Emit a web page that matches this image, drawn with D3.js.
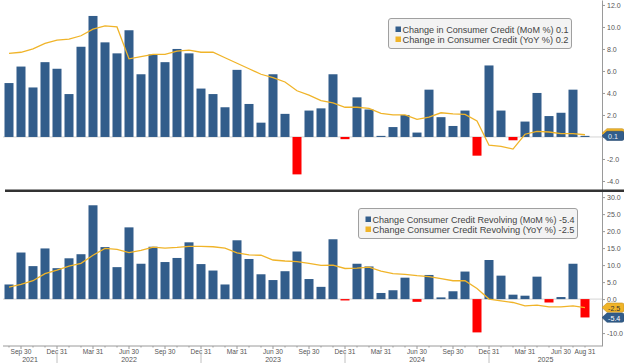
<!DOCTYPE html>
<html>
<head>
<meta charset="utf-8">
<script src="https://cdn.jsdelivr.net/npm/d3@7"></script>
<style>
body { margin: 0; background: #fff; }
svg { display: block; font-family: "Liberation Sans", Arial, sans-serif; }
</style>
</head>
<body>
<svg width="624" height="363"></svg>
<script>
// month ends, Aug 2021 .. Aug 2025
var months = [
    "2021-08", "2021-09", "2021-10", "2021-11", "2021-12",
    "2022-01", "2022-02", "2022-03", "2022-04", "2022-05", "2022-06", "2022-07", "2022-08", "2022-09", "2022-10", "2022-11", "2022-12",
    "2023-01", "2023-02", "2023-03", "2023-04", "2023-05", "2023-06", "2023-07", "2023-08", "2023-09", "2023-10", "2023-11", "2023-12",
    "2024-01", "2024-02", "2024-03", "2024-04", "2024-05", "2024-06", "2024-07", "2024-08", "2024-09", "2024-10", "2024-11", "2024-12",
    "2025-01", "2025-02", "2025-03", "2025-04", "2025-05", "2025-06", "2025-07", "2025-08"
];

var creditMoM = [4.9, 6.4, 4.5, 6.8, 6.2, 3.9, 8.2, 11.0, 8.6, 7.6, 9.7, 5.7, 7.5, 6.8, 8.0, 7.6, 4.4,
    3.9, 2.7, 6.1, 3.0, 1.3, 5.7, 2.1, -3.4, 2.4, 2.6, 5.7, -0.2,
    3.6, 2.5, 0.1, 0.9, 2.0, 0.4, 4.3, 1.8, 1.0, 2.4, -1.7, 6.5,
    2.4, -0.3, 1.4, 4.0, 1.9, 2.2, 4.3, 0.1];
var creditYoY = [7.6, 7.7, 8.0, 8.5, 8.8, 8.9, 9.2, 9.8, 10.1, 10.0, 7.1, 7.3, 7.5, 7.5, 7.8, 7.9, 7.7,
    7.7, 7.2, 6.7, 6.2, 5.7, 5.4, 5.0, 4.2, 3.8, 3.3, 3.1, 2.7,
    2.7, 2.6, 2.15, 2.0, 2.0, 1.6, 1.8, 2.2, 2.1, 2.05, 1.45, -0.75,
    -0.85, -1.1, 0.25, 0.5, 0.45, 0.3, 0.3, 0.2];
var revolvingMoM = [4.3, 13.7, 9.7, 14.9, 9.1, 12.0, 13.2, 27.6, 15.3, 9.4, 21.1, 10.4, 15.4, 10.9, 12.1, 16.7, 10.3,
    8.4, 4.3, 17.3, 11.8, 7.3, 5.6, 8.2, 14.0, 5.9, 3.6, 17.6, -0.4,
    10.4, 9.6, 1.8, 2.6, 6.3, -0.8, 7.1, 0.5, 2.3, 8.1, -9.8, 11.5,
    6.9, 1.3, 1.0, 6.6, -1.0, 0.6, 10.4, -5.4];
var revolvingYoY = [3.5, 4.3, 5.4, 7.5, 8.5, 9.7, 10.5, 12.9, 14.9, 14.6, 13.7, 14.3, 15.3, 15.0, 15.2, 15.5, 15.5,
    15.4, 15.0, 13.6, 13.0, 12.9, 11.5, 11.2, 11.0, 10.5, 9.9, 10.0, 9.0,
    9.1, 9.4, 8.2, 7.5, 7.3, 6.9, 6.6, 6.0, 5.4, 5.4, 3.1, 0.0,
    -0.5, -1.0, -2.0, -1.8, -2.3, -2.3, -2.0, -2.5];

var topTicks = [-4, -2, 0, 2, 4, 6, 8, 10, 12];
var bottomTicks = [-10, -5, 0, 5, 10, 15, 20, 25, 30];
var years = ["2021", "2022", "2023", "2024", "2025"];

var topLegend = ["Change in Consumer Credit (MoM %) 0.1", "Change in Consumer Credit (YoY %)  0.2"];
var bottomLegend = ["Change Consumer Credit Revolving (MoM %) -5.4", "Change Consumer Credit Revolving (YoY %)  -2.5"];

var BLUE = "#325d8b", RED = "#ff0000", GOLD = "#f0b429";

var svg = d3.select("svg");
var parse = d3.timeParse("%Y-%m");
var monthEnd = m => { var d = parse(m); return new Date(d.getFullYear(), d.getMonth() + 1, 0); };

var x = d3.scaleBand().domain(months).range([3, 591]).paddingInner(0.25).paddingOuter(0.125);
var cx = m => x(m) + x.bandwidth() / 2;

var yTop = d3.scaleLinear().domain([-4.82, 12.45]).range([190, 0]);
var yBot = d3.scaleLinear().domain([-13.8, 31.8]).range([346, 191]);

// squeeze text horizontally, the original uses a narrow font
function narrow(sel, k) {
    sel.each(function () {
        var w = this.getComputedTextLength();
        d3.select(this).attr("textLength", w * k).attr("lengthAdjust", "spacingAndGlyphs");
    });
}

function panel(y, mom, yoy, ticks, legend, box) {
    var g = svg.append("g");

    g.append("line")
        .attr("x1", 3).attr("x2", 602)
        .attr("y1", y(0)).attr("y2", y(0))
        .attr("stroke", "#d4d4d4");

    g.selectAll("rect.bar")
        .data(months)
        .enter().append("rect")
        .attr("class", "bar")
        .attr("x", m => x(m))
        .attr("width", x.bandwidth())
        .attr("y", (m, i) => y(Math.max(0, mom[i])))
        .attr("height", (m, i) => Math.abs(y(mom[i]) - y(0)))
        .attr("fill", (m, i) => mom[i] < 0 ? RED : BLUE);

    g.append("path")
        .datum(months)
        .attr("fill", "none")
        .attr("stroke", GOLD)
        .attr("stroke-width", 1.3)
        .attr("d", d3.line().x(m => cx(m)).y((m, i) => y(yoy[i])));

    var ax = g.append("g")
        .attr("transform", "translate(602,0)")
        .call(d3.axisRight(y).tickValues(ticks).tickSize(3).tickSizeOuter(0).tickPadding(2)
            .tickFormat(d => d.toFixed(1)));
    ax.select(".domain").attr("stroke", "#9a9a9a");
    ax.selectAll(".tick line").attr("stroke", "#9a9a9a");
    ax.selectAll(".tick text").attr("fill", "#555").attr("font-size", 7.8)
        .attr("font-family", "Liberation Sans, Arial, sans-serif")
        .call(narrow, 0.9);

    // legend
    var lg = g.append("g");
    lg.append("rect")
        .attr("x", box[0]).attr("y", box[1]).attr("width", box[2]).attr("height", box[3])
        .attr("rx", 2.5).attr("fill", "#f3f3f3").attr("stroke", "#a0a0a0");
    [BLUE, GOLD].forEach(function (c, i) {
        var ly = box[1] + 11 + i * 10;
        lg.append("rect").attr("x", box[0] + 7).attr("y", ly - 3).attr("width", 5.5).attr("height", 5.5).attr("fill", c);
        lg.append("text").attr("x", box[0] + 14).attr("y", ly + 3)
            .attr("font-size", 9.3).attr("fill", "#444")
            .attr("textLength", box[4]).attr("lengthAdjust", "spacingAndGlyphs")
            .text(legend[i]);
    });
}

panel(yTop, creditMoM, creditYoY, topTicks, topLegend, [388.5, 18.5, 183, 30, 166]);
panel(yBot, revolvingMoM, revolvingYoY, bottomTicks, bottomLegend, [358.5, 208.5, 219, 30, 202]);

// separator between panels
svg.append("rect").attr("x", 5).attr("y", 189.5).attr("width", 619).attr("height", 2.5).attr("fill", "#333");

// value tags on the right
function tag(yv, label, fill, color) {
    var h = 4.6;
    svg.append("path")
        .attr("d", "M602," + yv + "L607," + (yv - h) + "L622," + (yv - h) + "Q624," + (yv - h) + " 624," + (yv - h + 2) +
            "L624," + (yv + h - 2) + "Q624," + (yv + h) + " 622," + (yv + h) + "L607," + (yv + h) + "Z")
        .attr("fill", fill).attr("stroke", d3.color(fill).darker(0.6)).attr("stroke-width", 0.6);
    if (label) {
        svg.append("text").attr("x", 608).attr("y", yv + 3)
            .attr("font-size", 7.8).attr("fill", color).text(label)
            .call(narrow, 0.92);
    }
}
// the YoY tag of the top panel sits hidden under the MoM tag
tag(yTop(creditYoY[48]) - 1.5, null, GOLD, "#333");
tag(yTop(creditMoM[48]), creditMoM[48].toFixed(1), BLUE, "#e6eef8");
tag(yBot(revolvingYoY[48]), revolvingYoY[48].toFixed(1), GOLD, "#333");
tag(yBot(revolvingYoY[48]) + 10, revolvingMoM[48].toFixed(1), BLUE, "#fff");

// x axis
var xa = svg.append("g");
xa.append("line").attr("x1", 3).attr("x2", 602).attr("y1", 346).attr("y2", 346).attr("stroke", "#9a9a9a");
xa.selectAll("line.mt")
    .data(months)
    .enter().append("line")
    .attr("x1", m => cx(m)).attr("x2", m => cx(m))
    .attr("y1", 346).attr("y2", (m, i) => parse(m).getMonth() % 3 === 2 ? 349 : 347.5)
    .attr("stroke", "#9a9a9a");

var quarterMonths = months.filter((m, i) => parse(m).getMonth() % 3 === 2 || i === months.length - 1);
xa.selectAll("text.q")
    .data(quarterMonths)
    .enter().append("text")
    .attr("x", m => cx(m)).attr("y", 354)
    .attr("text-anchor", "middle").attr("font-size", 7.8).attr("fill", "#555")
    .text(m => d3.timeFormat("%b %d")(monthEnd(m)))
    .call(narrow, 0.85);

var decs = months.filter(m => parse(m).getMonth() === 11).map(cx);
xa.selectAll("line.ys")
    .data(decs)
    .enter().append("line")
    .attr("x1", d => d).attr("x2", d => d).attr("y1", 352).attr("y2", 363)
    .attr("stroke", "#c0c0c0");

var bounds = [3].concat(decs, [602]);
xa.selectAll("text.yr")
    .data(years)
    .enter().append("text")
    .attr("x", (d, i) => (bounds[i] + bounds[i + 1]) / 2).attr("y", 362)
    .attr("text-anchor", "middle").attr("font-size", 7.8).attr("fill", "#555")
    .text(d => d)
    .call(narrow, 0.9);
</script>
</body>
</html>
